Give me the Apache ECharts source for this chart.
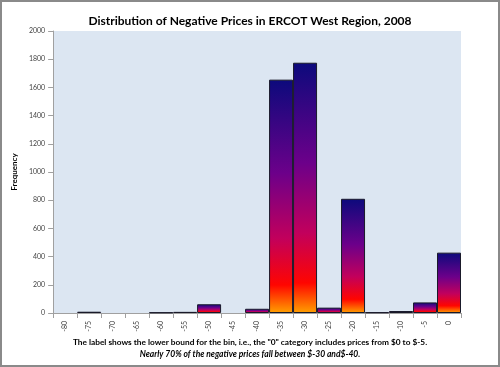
<!DOCTYPE html>
<html>
<head>
<meta charset="utf-8">
<script src="https://cdn.jsdelivr.net/npm/echarts@6/dist/echarts.min.js"></script>
<style>
  html, body { margin: 0; padding: 0; background: #fff; }
  #chart { width: 500px; height: 367px; box-sizing: border-box; border: 2px solid #8a8a8a; }
</style>
</head>
<body>
<div id="chart"></div>
<script>
// bins (lower bound of each $5 price bin)
const categories = ["-80", "-75", "-70", "-65", "-60", "-55", "-50", "-45", "-40",
  "-35", "-30", "-25", "-20", "-15", "-10", "-5", "0"];
const frequency = [0, 9, 0, 0, 4, 8, 62, 0, 30, 1655, 1775, 38, 810, 5, 14, 75, 428];
const yTicks = [0, 200, 400, 600, 800, 1000, 1200, 1400, 1600, 1800, 2000];

const chart = echarts.init(document.getElementById("chart"));

const barColor = new echarts.graphic.LinearGradient(0, 0, 0, 1, [
  { offset: 0, color: "#0c0a7c" },
  { offset: 0.4, color: "#6c008a" },
  { offset: 0.68, color: "#c2005c" },
  { offset: 0.88, color: "#ff0500" },
  { offset: 1, color: "#ffa000" },
]);

const option = {
  animation: false,
  title: {
    text: "Distribution of Negative Prices in ERCOT West Region, 2008",
    left: "center",
    top: 8,
    textStyle: { fontFamily: "Lato", fontSize: 12, fontWeight: "bold", color: "#000" },
  },
  grid: { left: 44, right: 37, top: 29, bottom: 52, containLabel: false },
  xAxis: {
    type: "category",
    data: categories,
    axisLine: { lineStyle: { color: "#a0a0a0" } },
    axisTick: { show: true, interval: 0, lineStyle: { color: "#a0a0a0" } },
    axisLabel: { rotate: 90, interval: 0, fontSize: 7, color: "#444", fontFamily: "Lato", margin: 8 },
    splitLine: { show: false },
  },
  yAxis: {
    type: "value",
    min: yTicks[0],
    max: yTicks[yTicks.length - 1],
    interval: 200,
    name: "Frequency",
    nameLocation: "middle",
    nameGap: 28,
    nameTextStyle: { fontFamily: "Lato", fontSize: 8, fontWeight: "bold", color: "#000" },
    axisLine: { show: true, lineStyle: { color: "#a0a0a0" } },
    axisTick: { show: true, lineStyle: { color: "#a0a0a0" } },
    axisLabel: { fontSize: 7, color: "#444", fontFamily: "Lato", margin: 8, formatter: (v) => String(v) },
    splitLine: { show: false },
    splitArea: { show: true, areaStyle: { color: ["#dce6f2", "#dce6f2"] } },
  },
  series: [
    {
      type: "bar",
      // empty bins draw nothing
      data: frequency.map((v) => (v === 0 ? "-" : v)),
      barCategoryGap: "0%",
      itemStyle: { color: barColor, borderColor: "#1a1a2a", borderWidth: 1 },
    },
  ],
  graphic: [
    {
      type: "text",
      left: "center",
      top: 336,
      style: {
        text: "The label shows the lower bound for the bin, i.e., the \"0\" category includes prices from $0 to $-5.",
        font: "bold 8.3px Lato",
        fill: "#000",
      },
    },
    {
      type: "text",
      left: "center",
      top: 348,
      style: {
        text: "Nearly 70% of the negative prices fall between $-30 and$-40.",
        font: "italic bold 8.5px Lato",
        fill: "#000",
      },
    },
  ],
};

chart.setOption(option);
</script>
</body>
</html>
